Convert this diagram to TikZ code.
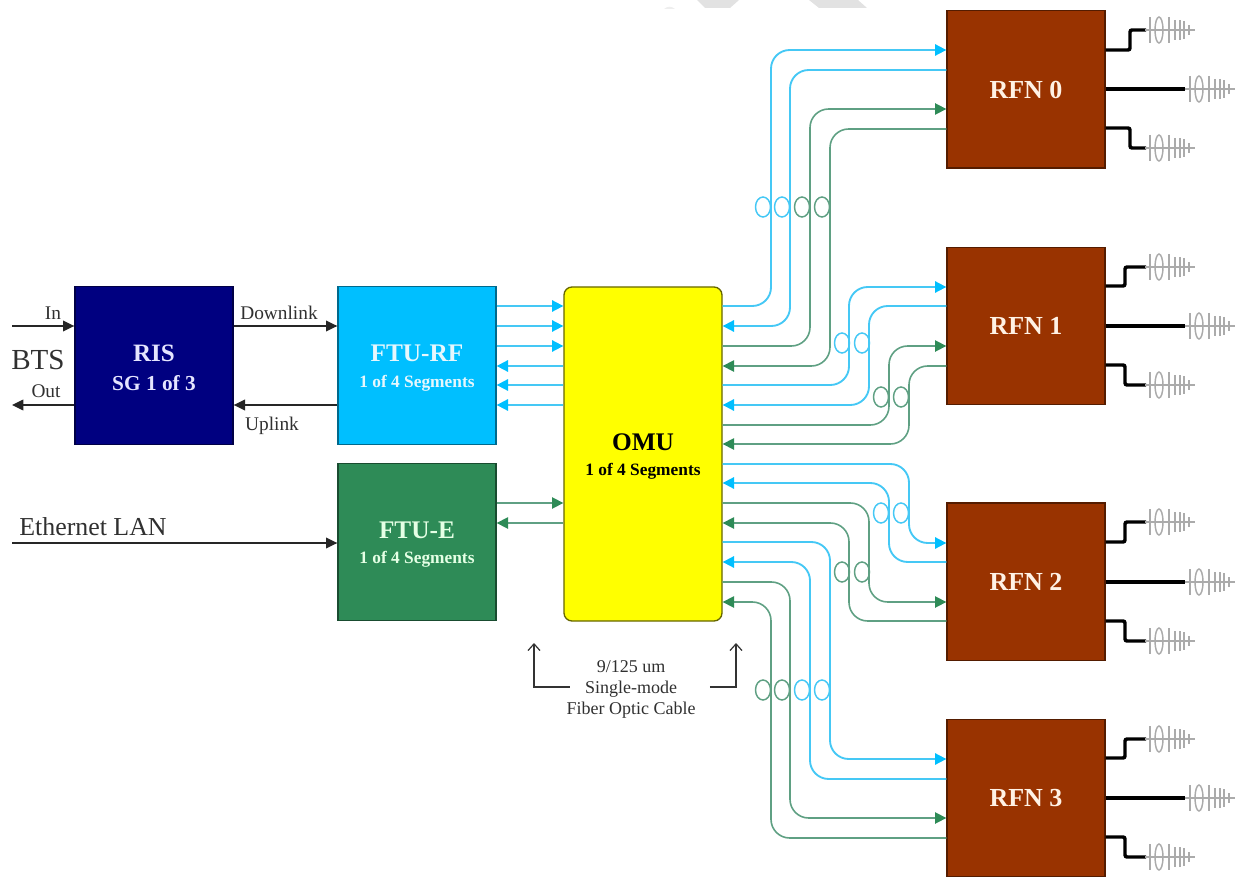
\documentclass[tikz,border=0pt]{standalone}
\usepackage{fontspec}
\setmainfont{Liberation Serif}
\usetikzlibrary{arrows.meta}
\definecolor{risblue}{HTML}{000080}
\definecolor{ftucyan}{HTML}{00BFFF}
\definecolor{ftugreen}{HTML}{2E8B57}
\definecolor{rfnbrown}{HTML}{993300}
\definecolor{omuyellow}{HTML}{FFFF00}
\definecolor{fibcyan}{HTML}{45C8F5}
\definecolor{fibgreen}{HTML}{5FA083}
\definecolor{antgray}{HTML}{ABABAB}
\definecolor{wmgray}{HTML}{E2E2E2}
\definecolor{txtgray}{HTML}{303030}
\newcommand{\pxs}[1]{\fontsize{#1}{#1}\selectfont}
\newcommand{\lowerby}{\rule{0pt}{16.5pt}}
\tikzset{
  x=0.75pt,y=-0.75pt,
  blockbox/.style={draw=#1!55!black,line width=1pt,fill=#1,minimum width=118.5pt,minimum height=118pt,inner sep=0pt,align=center,font=\bfseries},
  rfnbox/.style={blockbox=rfnbrown,text=white!90!orange,font=\bfseries\pxs{19.5pt}},
  cyanfib/.style={draw=fibcyan,line width=1.4pt,rounded corners=14pt},
  greenfib/.style={draw=fibgreen,line width=1.2pt,rounded corners=14pt},
  cyantip/.style={-{Triangle[length=8.5pt,width=8.5pt,color=ftucyan]}},
  greentip/.style={-{Triangle[length=8.5pt,width=8.5pt,color=ftugreen]}},
  cyantipback/.style={{Triangle[length=8.5pt,width=8.5pt,color=ftucyan]}-},
  greentipback/.style={{Triangle[length=8.5pt,width=8.5pt,color=ftugreen]}-},
  blackline/.style={draw=black!85,line width=1.1pt,-{Triangle[length=8.5pt,width=8pt]}},
  loopcyan/.style={draw=fibcyan,line width=1.1pt},
  loopgreen/.style={draw=fibgreen,line width=1.1pt},
  feed/.style={draw=black,line width=2.6pt,rounded corners=1.5pt},
  smalltext/.style={text=txtgray,font=\pxs{14.5pt},inner sep=0pt},
  cabletext/.style={text=txtgray,font=\pxs{13.5pt},inner sep=0pt,align=center},
  cablearrow/.style={draw=black!80,line width=0.9pt,-{Straight Barb[length=5pt,width=9pt]}},
}
% antenna glyph: #1 = x of start, #2 = y
\newcommand{\antenna}[2]{%
  \begin{scope}[shift={(#1,#2)},draw=antgray]
    \draw[line width=0.9pt] (0,0) -- (50,0);
    \draw[line width=1.4pt] (5,-13) -- (5,13);
    \draw[line width=1.1pt] (14,0) ellipse [x radius=4,y radius=13];
    \draw[line width=1.4pt] (24,-13) -- (24,13);
    \draw[line width=1.3pt] (30,-10) -- (30,10);
    \draw[line width=1.1pt] (35,-10) -- (35,10);
    \draw[line width=1.1pt] (39,-9) -- (39,9);
    \draw[line width=0.9pt] (44,-5) -- (44,5);
  \end{scope}}
\newcommand{\aloop}[3]{\draw[#1] (#2,#3) ellipse [x radius=7.5,y radius=10];}
\begin{document}
\begin{tikzpicture}
\useasboundingbox (0,0) rectangle (1235,877);
% watermark fragments at the top edge
\fill[wmgray] (697,0) -- (705,8) -- (730,8) -- (739,0) -- cycle;
\fill[wmgray] (809,0) -- (819,8) -- (867,8) -- (858,0) -- cycle;
\fill[wmgray!60] (664,9) .. controls (667,6) and (672,6) .. (675,9) -- cycle;

% blocks
\node[blockbox=risblue,text=white!90!blue] (ris) at (154,365.5) {\lowerby{\pxs{18.75pt}RIS}\\[9.75pt]{\pxs{16pt}SG 1 of 3}};
\node[blockbox=ftucyan,text=white!90!cyan] (ftur) at (417,365.5) {\lowerby{\pxs{19pt}FTU-RF}\\[7pt]{\pxs{13pt}1 of 4 Segments}};
\node[blockbox=ftugreen,text=white!90!green] (ftue) at (417,542) {\lowerby{\pxs{19pt}FTU-E}\\[7pt]{\pxs{13pt}1 of 4 Segments}};
\node[draw=black!60!omuyellow,line width=1pt,fill=omuyellow,rounded corners=6pt,minimum width=118.5pt,minimum height=250.5pt,inner sep=0pt,align=center,text=black,font=\bfseries] (omu) at (643,454) {\lowerby{\pxs{19pt}OMU}\\[7pt]{\pxs{13pt}1 of 4 Segments}};
\node[rfnbox] (r0) at (1026,89.5) {RFN 0};
\node[rfnbox] (r1) at (1026,326) {RFN 1};
\node[rfnbox] (r2) at (1026,581.5) {RFN 2};
\node[rfnbox] (r3) at (1026,798) {RFN 3};

% RIS / FTU connectors
\coordinate (inS) at (12,326);
\coordinate (outE) at (12,405);
\coordinate (lanS) at (12,543);
\draw[blackline] (inS) -- (ris.west |- inS);
\draw[blackline] (ris.west |- outE) -- (outE);
\draw[blackline] (ris.east |- inS) -- (ftur.west |- inS);
\draw[blackline] (ftur.west |- outE) -- (ris.east |- outE);
\draw[blackline] (lanS) -- (ftue.west |- lanS);
\node[smalltext] (tin) at (53,313) {In};
\node[smalltext] (tout) at (46,391) {Out};
\node[smalltext] (tdown) at (279,313) {Downlink};
\node[smalltext] (tup) at (272,426) {Uplink};
\node[text=txtgray,font=\pxs{21.8pt},inner sep=0pt] (tbts) at (38,360) {BTS};
\node[text=txtgray,font=\pxs{19.4pt},inner sep=0pt] (tlan) at (93,527) {Ethernet LAN};

% FTU <-> OMU
\foreach \yy in {306,326,346} \draw[cyanfib,cyantip] (ftur.east |- 0,\yy) -- (omu.west |- 0,\yy);
\foreach \yy in {366,385,405} \draw[cyanfib,cyantip] (omu.west |- 0,\yy) -- (ftur.east |- 0,\yy);
\draw[greenfib,greentip] (ftue.east |- 0,503) -- (omu.west |- 0,503);
\draw[greenfib,greentip] (omu.west |- 0,523) -- (ftue.east |- 0,523);

% OMU -> RFN 0
\draw[cyanfib,cyantip] (omu.east |- 0,306) -- (771,306) -- (771,50) -- (r0.west |- 0,50);
\draw[cyanfib,cyantipback] (omu.east |- 0,326) -- (790,326) -- (790,70) -- (r0.west |- 0,70);
\draw[greenfib,greentip] (omu.east |- 0,346) -- (810,346) -- (810,109) -- (r0.west |- 0,109);
\draw[greenfib,greentipback] (omu.east |- 0,366) -- (830,366) -- (830,129) -- (r0.west |- 0,129);
% OMU -> RFN 1
\draw[cyanfib,cyantip] (omu.east |- 0,385) -- (849,385) -- (849,287) -- (r1.west |- 0,287);
\draw[cyanfib,cyantipback] (omu.east |- 0,405) -- (869,405) -- (869,306) -- (r1.west |- 0,306);
\draw[greenfib,greentip] (omu.east |- 0,425) -- (889,425) -- (889,346) -- (r1.west |- 0,346);
\draw[greenfib,greentipback] (omu.east |- 0,444) -- (909,444) -- (909,366) -- (r1.west |- 0,366);
% OMU -> RFN 2
\draw[cyanfib,cyantip] (omu.east |- 0,464) -- (909,464) -- (909,543) -- (r2.west |- 0,543);
\draw[cyanfib,cyantipback] (omu.east |- 0,483) -- (889,483) -- (889,562) -- (r2.west |- 0,562);
\draw[greenfib,greentip] (omu.east |- 0,503) -- (869,503) -- (869,602) -- (r2.west |- 0,602);
\draw[greenfib,greentipback] (omu.east |- 0,523) -- (849,523) -- (849,621) -- (r2.west |- 0,621);
% OMU -> RFN 3
\draw[cyanfib,cyantip] (omu.east |- 0,542) -- (830,542) -- (830,759) -- (r3.west |- 0,759);
\draw[cyanfib,cyantipback] (omu.east |- 0,562) -- (810,562) -- (810,779) -- (r3.west |- 0,779);
\draw[greenfib,greentip] (omu.east |- 0,582) -- (790,582) -- (790,818) -- (r3.west |- 0,818);
\draw[greenfib,greentipback] (omu.east |- 0,602) -- (771,602) -- (771,838) -- (r3.west |- 0,838);

% fibre loops
\aloop{loopcyan}{763}{207} \aloop{loopcyan}{782}{207} \aloop{loopgreen}{802}{207} \aloop{loopgreen}{822}{207}
\aloop{loopcyan}{842}{343} \aloop{loopcyan}{862}{343} \aloop{loopgreen}{881}{397} \aloop{loopgreen}{901}{397}
\aloop{loopcyan}{881}{513} \aloop{loopcyan}{901}{513} \aloop{loopgreen}{842}{572} \aloop{loopgreen}{862}{572}
\aloop{loopgreen}{763}{690} \aloop{loopgreen}{782}{690} \aloop{loopcyan}{802}{690} \aloop{loopcyan}{822}{690}

% antenna feeds
\draw[feed] (r0.east |- 0,50) -- (1130,50) -- (1130,30) -- (1146,30);
\draw[feed] (r0.east |- 0,89) -- (1185,89);
\draw[feed] (r0.east |- 0,128) -- (1130,128) -- (1130,148) -- (1146,148);
\draw[feed] (r1.east |- 0,286) -- (1125,286) -- (1125,267) -- (1146,267);
\draw[feed] (r1.east |- 0,326) -- (1185,326);
\draw[feed] (r1.east |- 0,365) -- (1125,365) -- (1125,385) -- (1146,385);
\draw[feed] (r2.east |- 0,542) -- (1125,542) -- (1125,522) -- (1146,522);
\draw[feed] (r2.east |- 0,582) -- (1185,582);
\draw[feed] (r2.east |- 0,621) -- (1125,621) -- (1125,641) -- (1146,641);
\draw[feed] (r3.east |- 0,758) -- (1125,758) -- (1125,739) -- (1146,739);
\draw[feed] (r3.east |- 0,798) -- (1185,798);
\draw[feed] (r3.east |- 0,837) -- (1125,837) -- (1125,857) -- (1146,857);
\antenna{1145}{30}\antenna{1185}{89}\antenna{1145}{148}
\antenna{1145}{267}\antenna{1185}{326}\antenna{1145}{385}
\antenna{1145}{522}\antenna{1185}{582}\antenna{1145}{641}
\antenna{1145}{739}\antenna{1185}{798}\antenna{1145}{857}

% cable note
\node[cabletext] (cable) at (631,689.5) {9/125 um\\[2.2pt]Single-mode\\[2.2pt]Fiber Optic Cable};
\coordinate (capL) at (cable.west |- 0,687);
\coordinate (capR) at (cable.east |- 0,687);
\draw[cablearrow] ([xshift=2.5pt]capL) -- (534,687) -- (534,643);
\draw[cablearrow] ([xshift=10.5pt]capR) -- (736,687) -- (736,643);
\end{tikzpicture}
\end{document}
